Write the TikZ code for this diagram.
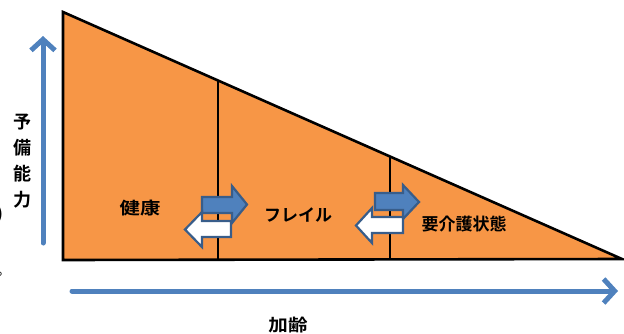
\documentclass[tikz,border=0pt]{standalone}
\usepackage{fontspec}
\newfontfamily\jp{Noto Sans CJK JP}[BoldFont={Noto Sans CJK JP Bold}]
\usetikzlibrary{arrows.meta}
\definecolor{tri}{HTML}{F79646}
\definecolor{axblue}{HTML}{4F81BD}
\definecolor{bord}{HTML}{385D8A}
\tikzset{
  axis/.style={draw=axblue,line width=5pt,line cap=round,
    -{Straight Barb[length=11pt,width=24pt,line width=5pt]}},
  rarrow/.style={fill=axblue,draw=bord,line width=2.2pt,line join=miter},
  larrow/.style={fill=white,draw=bord,line width=2.2pt,line join=miter},
  lab/.style={font=\jp\bfseries\fontsize{17}{19}\selectfont,inner sep=0pt},
}
\begin{document}
\begin{tikzpicture}[x=1pt,y=-1pt]
\useasboundingbox (0,0) rectangle (624,333);
% triangle
\coordinate (A) at (63,12);
\coordinate (B) at (63,260);
\coordinate (C) at (622,259);
\filldraw[fill=tri,draw=black,line width=2.6pt,line join=miter] (A) -- (B) -- (C) -- cycle;
\coordinate (v1t) at (218,80);
\coordinate (v1b) at (218,260);
\coordinate (v2t) at (390,156);
\coordinate (v2b) at (390,260);
\draw[line width=1.8pt] (v1t) -- (v1b);
\draw[line width=1.8pt] (v2t) -- (v2b);
% axes
\coordinate (ys) at (43,243);
\coordinate (ye) at (43,36);
\draw[axis] (ys) -- (ye);
\coordinate (xs) at (72,291);
\coordinate (xe) at (618,291);
\draw[axis] (xs) -- (xe);
% labels
\node[lab,align=center,font=\jp\bfseries\fontsize{18}{26}\selectfont] (yl) at (22,161) {予\\備\\能\\力};
\node[lab,xscale=1.15] (xl) at (288,325) {加齢};
\node[lab,xscale=1.2] (s1) at (140,208) {健康};
\node[lab] (s2) at (298,215) {フレイル};
\node[lab] (s3) at (464,224) {要介護状態};
% block arrows
\draw[rarrow] (202,197) -- (232,197) -- (232,186) -- (247,204.5) -- (232,223) -- (232,213) -- (202,213) -- cycle;
\draw[larrow] (231,221) -- (202,221) -- (202,212) -- (185,229.5) -- (202,247) -- (202,237) -- (231,237) -- cycle;
\draw[rarrow] (375,193) -- (403,193) -- (403,185) -- (419,202) -- (403,219) -- (403,210) -- (375,210) -- cycle;
\draw[larrow] (403,217) -- (372,217) -- (372,208) -- (356,225.5) -- (372,243) -- (372,233) -- (403,233) -- cycle;
% cut-off marks at left edge
\begin{scope}
\clip (0,0) rectangle (624,333);
\node[font=\jp\bfseries\fontsize{16}{18}\selectfont,inner sep=0pt] (p1) at (0,214) {)};
\node[font=\jp\fontsize{14}{16}\selectfont,inner sep=0pt] (p2) at (4,274) {。};
\end{scope}
\end{tikzpicture}
\end{document}
